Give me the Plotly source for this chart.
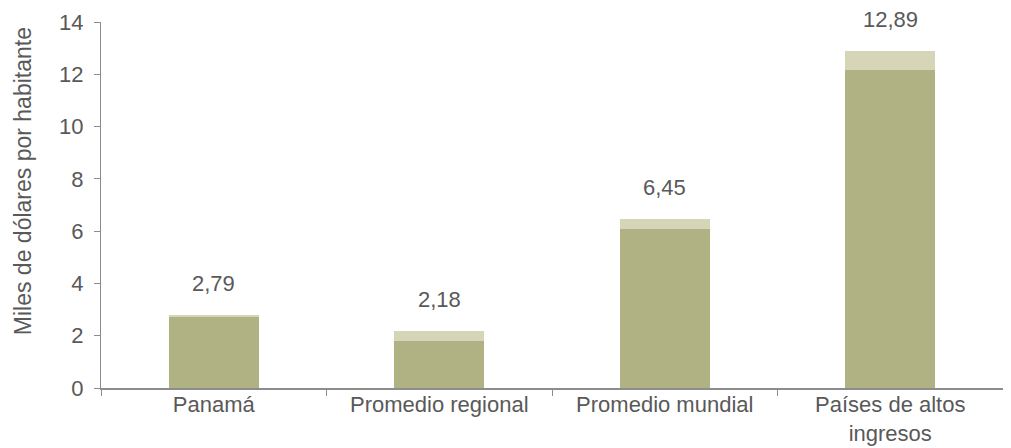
import plotly.graph_objects as go

categories = ["Panamá", "Promedio regional", "Promedio mundial", "Países de altos<br>ingresos"]
base_values = [2.73, 1.81, 6.07, 12.15]
totals = [2.79, 2.18, 6.45, 12.89]
total_labels = ["2,79", "2,18", "6,45", "12,89"]
top_values = [round(t - b, 2) for t, b in zip(totals, base_values)]
y_ticks = [0, 2, 4, 6, 8, 10, 12, 14]
y_title = "Miles de dólares por habitante"

FONT = "Liberation Sans, Arial, sans-serif"
GRAY = "#595959"
FS = 22

fig = go.Figure()
fig.add_trace(go.Bar(x=categories, y=base_values, marker=dict(color="#b0b283", line=dict(width=0)),
                     width=0.4, showlegend=False, hoverinfo="skip"))
fig.add_trace(go.Bar(x=categories, y=top_values, marker=dict(color="#d6d5b8", line=dict(width=0)),
                     width=0.4, showlegend=False, hoverinfo="skip"))

for c, t, lab in zip(categories, totals, total_labels):
    fig.add_annotation(x=c, y=t, text=lab, showarrow=False, yshift=32,
                       font=dict(family=FONT, size=FS, color=GRAY))

fig.add_annotation(xref="paper", yref="paper", x=-0.0865, y=0.565, text=y_title, textangle=-90,
                   showarrow=False, xanchor="center", yanchor="middle",
                   font=dict(family=FONT, size=23, color=GRAY))

fig.update_layout(
    barmode="stack",
    width=1003, height=440,
    margin=dict(l=93, r=8, t=14, b=60, autoexpand=False),
    paper_bgcolor="white", plot_bgcolor="white",
    font=dict(family=FONT, size=FS, color=GRAY),
)
fig.update_xaxes(showline=True, linecolor="#8c8c8c", linewidth=2, automargin=False,
                 ticks="outside", tickson="boundaries", ticklen=6, tickcolor="#8c8c8c", tickwidth=1,
                 ticklabelstandoff=-4,
                 showgrid=False, tickfont=dict(family=FONT, size=FS, color=GRAY))
fig.update_yaxes(range=[0, 14], tickvals=y_ticks, showline=True, linecolor="#8c8c8c", linewidth=1,
                 automargin=False, ticklabelstandoff=6,
                 ticks="outside", ticklen=6, tickcolor="#8c8c8c", showgrid=False, zeroline=False,
                 tickfont=dict(family=FONT, size=FS, color=GRAY))

fig.write_html("out.html")
